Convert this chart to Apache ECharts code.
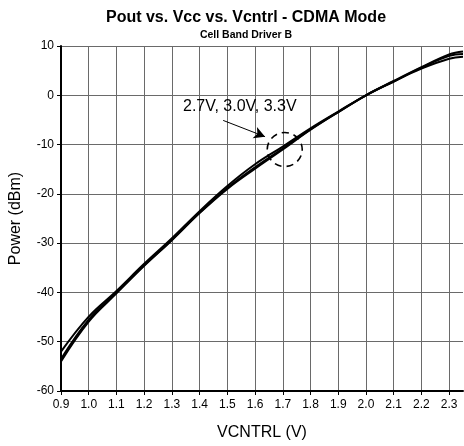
<!DOCTYPE html>
<html>
<head>
<meta charset="utf-8">
<script src="https://cdn.jsdelivr.net/npm/echarts@6/dist/echarts.min.js"></script>
<style>
  html, body { margin:0; padding:0; background:#fff; }
  #chart { width:464px; height:446px; }
</style>
</head>
<body>
<div id="chart"></div>
<script>
// VCNTRL (V) sample points
const vcntrl = [0.9, 1.0, 1.1, 1.2, 1.3, 1.4, 1.5, 1.6, 1.7, 1.8, 1.9, 2.0, 2.1, 2.2, 2.3, 2.35];
// Pout (dBm) for each Vcc
const pout27 = [-52.0, -44.9, -39.7, -34.2, -29.0, -23.5, -18.4, -14.0, -10.4, -6.7, -3.3, 0.0, 2.8, 5.4, 7.4, 7.8];
const pout30 = [-53.5, -45.5, -40.0, -34.5, -29.3, -23.8, -18.8, -14.6, -10.8, -6.9, -3.4, 0.0, 2.8, 5.6, 8.0, 8.4];
const pout33 = [-54.0, -45.9, -40.2, -34.6, -29.4, -23.9, -19.0, -14.9, -11.0, -7.0, -3.4, 0.0, 2.9, 5.7, 8.3, 8.9];
const seriesNames = ['2.7V', '3.0V', '3.3V'];

// annotation, in data coordinates
const noteText = '2.7V, 3.0V, 3.3V';
const notePos = [1.34, -2.5];
const arrowFrom = [1.485, -5.1];
const arrowTo = [1.636, -8.4];
const circleCenter = [1.707, -11.0];

const chart = echarts.init(document.getElementById('chart'));
const font = '"Liberation Sans", Arial, sans-serif';
const lineData = [pout27, pout30, pout33];

chart.setOption({
  animation: false,
  backgroundColor: '#fff',
  textStyle: { fontFamily: font },
  title: {
    text: 'Pout vs. Vcc vs. Vcntrl - CDMA Mode',
    subtext: 'Cell Band Driver B',
    left: 241, top: 5, textAlign: 'center', itemGap: 4,
    textStyle: { fontFamily: font, fontSize: 16, fontWeight: 'bold', color: '#000' },
    subtextStyle: { fontFamily: font, fontSize: 10.5, fontWeight: 'bold', color: '#000' }
  },
  grid: { left: 61, right: 1, top: 46, bottom: 55 },
  xAxis: {
    type: 'value', min: 0.9, max: 2.35, interval: 0.1,
    name: 'VCNTRL (V)', nameLocation: 'middle', nameGap: 34,
    nameTextStyle: { fontFamily: font, fontSize: 16, color: '#000' },
    axisLine: { onZero: false, lineStyle: { color: '#000', width: 2 } },
    axisTick: { show: true, length: 4, lineStyle: { color: '#000', width: 1 } },
    axisLabel: { fontFamily: font, fontSize: 12, color: '#000', margin: 8, showMaxLabel: false,
      formatter: v => v > 2.31 ? '' : v.toFixed(1) },
    splitLine: { show: true, showMaxLine: false, lineStyle: { color: '#6a6a6a', width: 1 } }
  },
  yAxis: {
    type: 'value', min: -60, max: 10, interval: 10,
    name: 'Power (dBm)', nameLocation: 'middle', nameGap: 37,
    nameTextStyle: { fontFamily: font, fontSize: 16, color: '#000' },
    axisLine: { show: true, onZero: false, lineStyle: { color: '#000', width: 2 } },
    axisTick: { show: true, length: 4, lineStyle: { color: '#000', width: 1 } },
    axisLabel: { fontFamily: font, fontSize: 12, color: '#000', margin: 7 },
    splitLine: { show: true, lineStyle: { color: '#6a6a6a', width: 1 } }
  },
  series: lineData.map((d, i) => ({
    name: seriesNames[i], type: 'line', smooth: 0.4, symbol: 'none',
    data: d.map((v, j) => [vcntrl[j], v]),
    lineStyle: { color: '#000', width: 2 },
    markLine: i === 0 ? {
      silent: true, symbol: ['none', 'arrow'], symbolSize: [9, 11],
      lineStyle: { color: '#000', width: 1, type: 'solid' },
      label: { show: false },
      data: [[{ coord: arrowFrom }, { coord: arrowTo }]]
    } : undefined
  }))
});

const tp = chart.convertToPixel('grid', notePos);
const cp = chart.convertToPixel('grid', circleCenter);
chart.setOption({
  graphic: [
    { type: 'text', left: tp[0], top: tp[1] - 9, z: 100,
      style: { text: noteText, fill: '#000', font: '16px ' + font } },
    { type: 'ellipse', shape: { cx: cp[0], cy: cp[1], rx: 17.5, ry: 17 }, z: 100,
      style: { fill: 'none', stroke: '#000', lineWidth: 1.6, lineDash: [7, 5] } }
  ]
});
</script>
</body>
</html>
